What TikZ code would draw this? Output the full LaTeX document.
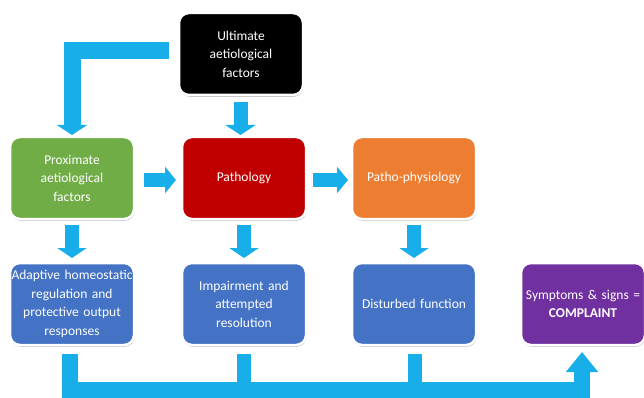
\documentclass[tikz,border=0pt]{standalone}
\usepackage{fontspec}
\setmainfont{Carlito}
\usetikzlibrary{arrows.meta,shadows,calc}
\definecolor{flow}{HTML}{18AEE9}
\definecolor{proxc}{HTML}{70AD47}
\definecolor{pathc}{HTML}{C00000}
\definecolor{physc}{HTML}{ED7D31}
\definecolor{effc}{HTML}{4472C4}
\definecolor{symc}{HTML}{7030A0}
\begin{document}
\begin{tikzpicture}[x=1pt,y=-1pt,
  box/.style={rounded corners=10pt, draw=white, line width=2.5pt,
    minimum width=124pt, minimum height=82pt, text width=122pt,
    align=center, text=white, inner sep=0pt, outer sep=0pt,
    font=\fontsize{13.5}{18.5}\selectfont,
    drop shadow={shadow xshift=0.6pt, shadow yshift=-1.8pt,
      fill=black!60, opacity=0.4}},
  blockarrow/.style={draw=flow, line width=14pt, line cap=butt,
    -{Triangle[width=30pt,length=10pt]}},
  sidearrow/.style={draw=flow, line width=14pt, line cap=butt,
    -{Triangle[width=26pt,length=11pt]}},
  busline/.style={draw=flow, line width=16pt, line cap=butt},
]
\useasboundingbox (0,0) rectangle (644,398);

% boxes
\node[box, fill=black] (ult) at (241,54) {Ultimate\\aetiological\\factors};
\node[box, fill=proxc] (prox) at (72,178) {Proximate\\aetiological\\factors};
\node[box, fill=pathc] (path) at (244,178) {Pathology};
\node[box, fill=physc] (phys) at (414,178) {Patho-physiology};
\node[box, fill=effc] (adapt) at (72,304) {Adaptive homeostatic\\regulation and\\protective output\\responses};
\node[box, fill=effc] (imp) at (244,304) {Impairment and\\attempted\\resolution};
\node[box, fill=effc] (dist) at (414,304) {Disturbed function};
\node[box, fill=symc] (sym) at (583,304) {Symptoms \& signs =\\\textbf{COMPLAINT}};

% causes
\draw[blockarrow] ($(ult.south)+(-0.5,7)$) -- ($(ult.south |- path.north)+(-0.5,-2)$);
\draw[blockarrow, line width=17pt] ($(ult.west)+(-10,-3)$) -| ($(prox.north)+(0,-2)$);
\draw[sidearrow] ($(prox.east)+(10,2)$) -- ($(path.west)+(-6,2)$);
\draw[sidearrow] ($(path.east)+(7,2)$) -- ($(phys.west)+(-4,2)$);

% effects
\draw[blockarrow, -{Triangle[width=29pt,length=10pt]}] ($(prox.south)+(0,6)$) -- ($(adapt.north)+(0,-5)$);
\draw[blockarrow, -{Triangle[width=29pt,length=10pt]}] ($(path.south)+(0,6)$) -- ($(imp.north)+(0,-5)$);
\draw[blockarrow, -{Triangle[width=29pt,length=10pt]}] ($(phys.south)+(0,6)$) -- ($(dist.north)+(0,-5)$);

% collecting bus to the complaint
\draw[busline, -{Triangle[width=31pt,length=20pt]}]
  ($(adapt.south)+(-2,9)$) |- ($(sym.south)+(-1,45)$) -- ($(sym.south)+(-1,7)$);
\draw[busline, line width=14pt] ($(imp.south)+(0,9)$) -- ($(imp.south)+(0,46)$);
\draw[busline, line width=14pt] ($(dist.south)+(1,9)$) -- ($(dist.south)+(1,46)$);
\end{tikzpicture}
\end{document}
